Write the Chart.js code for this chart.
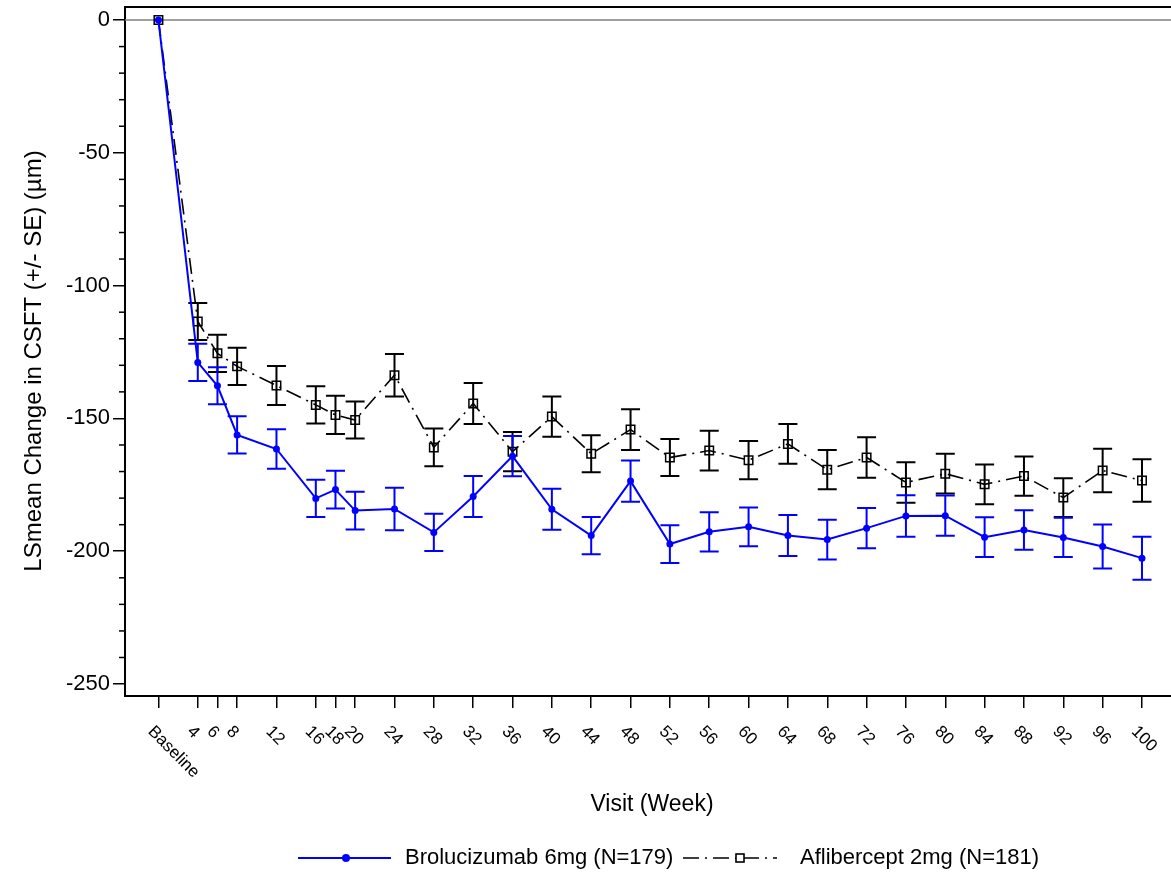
<!DOCTYPE html>
<html>
<head>
<meta charset="utf-8">
<script src="https://cdn.jsdelivr.net/npm/chart.js@4.4.1/dist/chart.umd.min.js"></script>
<style>
  html, body { margin: 0; padding: 0; background: #fff; }
  #wrap { width: 1171px; height: 874px; position: relative; }
</style>
</head>
<body>
<div id="wrap"><canvas id="csftChart"></canvas></div>
<script>
// visit weeks and their axis labels
const weeks = [0, 4, 6, 8, 12, 16, 18, 20, 24, 28, 32, 36, 40, 44, 48, 52, 56, 60, 64, 68, 72, 76, 80, 84, 88, 92, 96, 100];
const weekLabels = ['Baseline', '4', '6', '8', '12', '16', '18', '20', '24', '28', '32', '36', '40', '44', '48', '52', '56', '60', '64', '68', '72', '76', '80', '84', '88', '92', '96', '100'];

// LS mean change and SE, Brolucizumab 6mg
const broMean = [0, -128.9, -137.7, -156.2, -161.5, -180.1, -176.8, -184.7, -184.1, -192.9, -179.4, -164.2, -184.2, -194.1, -173.6, -197.3, -192.7, -190.8, -194.1, -195.6, -191.3, -186.7, -186.6, -194.7, -192.0, -194.8, -198.2, -202.6];
const broSE = [0, 7.0, 7.0, 7.0, 7.4, 7.0, 7.1, 7.1, 8.0, 7.0, 7.7, 7.6, 7.7, 7.0, 7.8, 7.1, 7.4, 7.3, 7.7, 7.5, 7.6, 7.8, 7.6, 7.5, 7.4, 7.4, 8.3, 8.1];

// LS mean change and SE, Aflibercept 2mg
const aflMean = [0, -113.5, -125.5, -130.4, -137.6, -144.9, -148.7, -150.6, -133.7, -160.9, -144.4, -162.5, -149.3, -163.3, -154.2, -164.7, -162.1, -165.7, -159.6, -169.3, -164.7, -174.1, -170.8, -174.8, -171.7, -179.8, -169.6, -173.4];
const aflSE = [0, 7.0, 7.0, 7.0, 7.3, 7.0, 7.2, 7.0, 8.0, 7.1, 7.7, 7.4, 7.6, 7.0, 7.7, 7.0, 7.5, 7.2, 7.5, 7.4, 7.6, 7.6, 7.5, 7.5, 7.4, 7.3, 8.2, 8.0];

const yMajor = [0, -50, -100, -150, -200, -250];

const FONT = '"Liberation Sans", Arial, sans-serif';
const BLUE = '#0000ff';
const AFL_DASH = [16, 6, 2, 6];

const toPoints = (mean) => weeks.map((w, i) => ({ x: w, y: mean[i] }));

// error bars, zero line, minor ticks, top border
const decorPlugin = {
    id: 'decor',
    beforeDatasetsDraw(chart) {
        const { ctx, chartArea: a, scales } = chart;
        const x = scales.x, y = scales.y;
        ctx.save();
        // zero reference line
        ctx.strokeStyle = '#808080';
        ctx.lineWidth = 1.5;
        ctx.beginPath();
        ctx.moveTo(a.left, y.getPixelForValue(0));
        ctx.lineTo(a.right, y.getPixelForValue(0));
        ctx.stroke();
        // top border
        ctx.strokeStyle = '#000';
        ctx.lineWidth = 2;
        ctx.beginPath();
        ctx.moveTo(a.left - 1, a.top);
        ctx.lineTo(a.right, a.top);
        ctx.stroke();
        // minor y ticks every 10
        ctx.lineWidth = 1.5;
        for (let v = -250; v <= 0; v += 10) {
            if (v % 50 === 0) continue;
            const py = y.getPixelForValue(v);
            ctx.beginPath();
            ctx.moveTo(a.left - 6, py);
            ctx.lineTo(a.left, py);
            ctx.stroke();
        }
        // error bars
        const sets = [
            { mean: aflMean, se: aflSE, color: '#000' },
            { mean: broMean, se: broSE, color: BLUE },
        ];
        sets.forEach((s) => {
            ctx.strokeStyle = s.color;
            ctx.lineWidth = 2;
            weeks.forEach((w, i) => {
                if (!s.se[i]) return;
                const px = x.getPixelForValue(w);
                const top = y.getPixelForValue(s.mean[i] + s.se[i]);
                const bot = y.getPixelForValue(s.mean[i] - s.se[i]);
                ctx.beginPath();
                ctx.moveTo(px, top);
                ctx.lineTo(px, bot);
                ctx.moveTo(px - 9.5, top);
                ctx.lineTo(px + 9.5, top);
                ctx.moveTo(px - 9.5, bot);
                ctx.lineTo(px + 9.5, bot);
                ctx.stroke();
            });
        });
        ctx.restore();
    },
    afterDraw(chart) {
        const { ctx, chartArea: a, scales } = chart;
        const x = scales.x;
        ctx.save();
        ctx.fillStyle = '#000';
        // rotated week labels
        ctx.font = '17px ' + FONT;
        ctx.textAlign = 'left';
        ctx.textBaseline = 'middle';
        weeks.forEach((w, i) => {
            ctx.save();
            ctx.translate(x.getPixelForValue(w) - 8, a.bottom + 33);
            ctx.rotate(Math.PI / 4);
            ctx.fillText(weekLabels[i], 0, 0);
            ctx.restore();
        });
        // axis titles
        ctx.textAlign = 'center';
        ctx.font = '23px ' + FONT;
        ctx.fillText('Visit (Week)', 652, 805);
        ctx.save();
        ctx.translate(34, 361);
        ctx.rotate(-Math.PI / 2);
        ctx.font = '24px ' + FONT;
        ctx.fillText('LSmean Change in CSFT (+/- SE) (\u00b5m)', 0, 0);
        ctx.restore();
        // legend
        const ly = 858;
        ctx.strokeStyle = BLUE;
        ctx.lineWidth = 2;
        ctx.beginPath();
        ctx.moveTo(298, ly);
        ctx.lineTo(391, ly);
        ctx.stroke();
        ctx.fillStyle = BLUE;
        ctx.beginPath();
        ctx.arc(346, ly, 4, 0, Math.PI * 2);
        ctx.fill();
        ctx.strokeStyle = '#000';
        ctx.lineWidth = 1.6;
        ctx.setLineDash(AFL_DASH);
        ctx.beginPath();
        ctx.moveTo(683, ly);
        ctx.lineTo(777, ly);
        ctx.stroke();
        ctx.setLineDash([]);
        ctx.fillStyle = '#fff';
        ctx.fillRect(736, ly - 4, 8, 8);
        ctx.strokeRect(736, ly - 4, 8, 8);
        ctx.fillStyle = '#000';
        ctx.textAlign = 'left';
        ctx.font = '22px ' + FONT;
        ctx.fillText('Brolucizumab 6mg (N=179)', 405, ly);
        ctx.fillText('Aflibercept 2mg (N=181)', 800, ly);
        ctx.restore();
    },
};

new Chart(document.getElementById('csftChart'), {
    type: 'line',
    data: {
        datasets: [
            {
                label: 'Brolucizumab 6mg (N=179)',
                data: toPoints(broMean),
                borderColor: BLUE,
                backgroundColor: BLUE,
                borderWidth: 2,
                pointStyle: 'circle',
                pointRadius: 3.5,
                pointBorderWidth: 0,
                tension: 0,
            },
            {
                label: 'Aflibercept 2mg (N=181)',
                data: toPoints(aflMean),
                borderColor: '#000',
                backgroundColor: 'rgba(0,0,0,0)',
                borderWidth: 1.6,
                borderDash: AFL_DASH,
                pointStyle: 'rect',
                pointRadius: 6,
                pointBorderWidth: 1.5,
                tension: 0,
            },
        ],
    },
    options: {
        responsive: true,
        maintainAspectRatio: false,
        animation: false,
        layout: { autoPadding: false, padding: { top: 7, right: 0, left: 0, bottom: 0 } },
        plugins: {
            legend: { display: false },
            tooltip: { enabled: false },
        },
        scales: {
            x: {
                type: 'linear',
                min: -3.4,
                max: 102.95,
                afterBuildTicks: (scale) => {
                    scale.ticks = weeks.map((w) => ({ value: w }));
                },
                afterFit: (scale) => {
                    scale.height = 178;
                    scale.paddingLeft = 0;
                    scale.paddingRight = 0;
                },
                ticks: { callback: () => '', autoSkip: false, maxRotation: 0 },
                grid: { drawOnChartArea: false, tickLength: 12, color: '#000', lineWidth: 1.5 },
                border: { display: true, color: '#000', width: 2 },
            },
            y: {
                min: -254.5,
                max: 4.9,
                afterBuildTicks: (scale) => {
                    scale.ticks = yMajor.map((v) => ({ value: v }));
                },
                afterFit: (scale) => {
                    scale.width = 125;
                    scale.paddingTop = 0;
                    scale.paddingBottom = 0;
                },
                ticks: { font: { size: 22, family: FONT }, color: '#000', padding: 3 },
                grid: { drawOnChartArea: false, tickLength: 12, color: '#000', lineWidth: 1.5 },
                border: { display: true, color: '#000', width: 2 },
            },
        },
    },
    plugins: [decorPlugin],
});
</script>
</body>
</html>
